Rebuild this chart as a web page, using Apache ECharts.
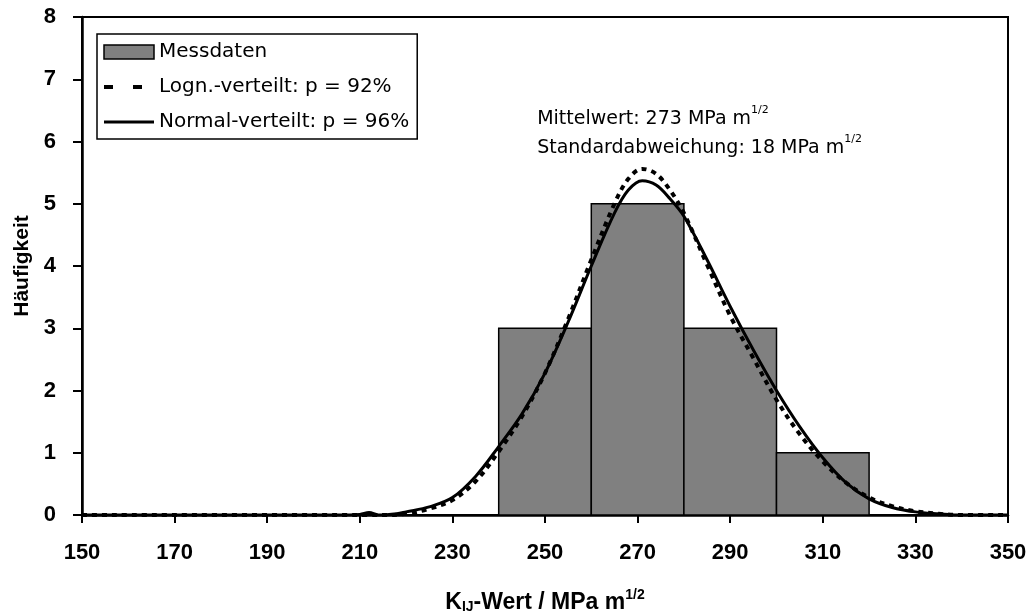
<!DOCTYPE html>
<html>
<head>
<meta charset="utf-8">
<script src="https://cdn.jsdelivr.net/npm/echarts@6/dist/echarts.min.js"></script>
<style>
html,body{margin:0;padding:0;background:#fff;}
#chart{width:1033px;height:616px;}
</style>
</head>
<body>
<div id="chart"></div>
<script>
// ---- data ----
var xTickValues = [150, 170, 190, 210, 230, 250, 270, 290, 310, 330, 350];
var binStarts = [240, 260, 280, 300];
var binEnds   = [260, 280, 300, 320];
var binCounts = [3, 5, 3, 1];

var normalX = [150, 205, 210, 212, 214, 218, 220, 225, 230, 235, 240, 245, 250, 255, 260, 265, 268, 271, 274, 277, 280, 285, 290, 295, 300, 305, 310, 315, 320, 325, 330, 335, 340, 350];
var normalY = [0, 0, 0.01, 0.04, 0.0, 0.02, 0.05, 0.13, 0.28, 0.62, 1.1, 1.62, 2.28, 3.1, 4.0, 4.85, 5.22, 5.37, 5.3, 5.08, 4.8, 4.1, 3.35, 2.65, 2.0, 1.42, 0.92, 0.52, 0.26, 0.12, 0.05, 0.02, 0, 0];

var lognX = [150, 215, 220, 225, 230, 235, 240, 245, 250, 255, 260, 265, 268, 271, 274, 277, 280, 285, 290, 295, 300, 305, 310, 315, 320, 325, 330, 335, 340, 350];
var lognY = [0, 0, 0.02, 0.1, 0.24, 0.54, 1.02, 1.58, 2.28, 3.15, 4.1, 5.0, 5.4, 5.56, 5.48, 5.22, 4.85, 4.02, 3.2, 2.52, 1.85, 1.3, 0.86, 0.52, 0.28, 0.14, 0.06, 0.02, 0, 0];

var seriesNames = ['Messdaten', 'Logn.-verteilt: p = 92%', 'Normal-verteilt: p = 96%'];

// ---- build ----
function pairs(xs, ys) { return xs.map(function (x, i) { return [x, ys[i]]; }); }
var barData = binStarts.map(function (s, i) { return [s, binEnds[i], binCounts[i]]; });

var chart = echarts.init(document.getElementById('chart'), null, {renderer: 'canvas'});
var REG = 'DejaVu Sans';
var BOLD = 'Liberation Sans';

var option = {
  animation: false,
  backgroundColor: '#fff',
  grid: {left: 82, right: 25, top: 17, bottom: 101, show: true, borderColor: '#000', borderWidth: 2,
         containLabel: false, outerBoundsMode: 'none'},
  legend: {
    orient: 'vertical', left: 97, top: 34,
    padding: [8, 8, 7, 5],
    itemWidth: 50, itemHeight: 14, itemGap: 15,
    borderColor: '#000', borderWidth: 1.5, backgroundColor: '#fff',
    textStyle: {fontFamily: REG, fontSize: 20, color: '#000'},
    data: [
      {name: seriesNames[0], icon: 'rect', itemStyle: {color: '#808080', borderColor: '#000', borderWidth: 1.5}},
      {name: seriesNames[1], itemStyle: {color: 'rgba(0,0,0,0)', borderWidth: 0, opacity: 0}, lineStyle: {type: [9, 20], width: 4, color: '#000', opacity: 1}},
      {name: seriesNames[2], itemStyle: {color: 'rgba(0,0,0,0)', borderWidth: 0, opacity: 0}, lineStyle: {width: 3, color: '#000', opacity: 1}}
    ]
  },
  xAxis: {
    type: 'value', min: 150, max: 350,
    axisLine: {show: true, onZero: false, lineStyle: {color: '#000', width: 2.5}},
    axisTick: {show: true, length: 8, lineStyle: {color: '#000', width: 2}, customValues: xTickValues},
    axisLabel: {margin: 27, fontFamily: BOLD, fontWeight: 'bold', fontSize: 22, color: '#000', customValues: xTickValues},
    splitLine: {show: false},
    name: '{n|K}{s|IJ}{n|-Wert / MPa m}{p|1/2}',
    nameLocation: 'middle', nameGap: 73,
    nameTextStyle: {
      rich: {
        n: {fontFamily: BOLD, fontWeight: 'bold', fontSize: 23, color: '#000', lineHeight: 26, verticalAlign: 'bottom'},
        s: {fontFamily: BOLD, fontWeight: 'bold', fontSize: 14, color: '#000', lineHeight: 15, verticalAlign: 'bottom', padding: [13, 0, 0, 0]},
        p: {fontFamily: BOLD, fontWeight: 'bold', fontSize: 14, color: '#000', lineHeight: 15, verticalAlign: 'top'}
      }
    }
  },
  yAxis: {
    type: 'value', min: 0, max: 8, interval: 1,
    axisLine: {show: true, lineStyle: {color: '#000', width: 2.5}},
    axisTick: {show: true, length: 9, lineStyle: {color: '#000', width: 2}},
    axisLabel: {margin: 26, fontFamily: BOLD, fontWeight: 'bold', fontSize: 22, color: '#000'},
    splitLine: {show: false},
    name: 'Häufigkeit', nameLocation: 'middle', nameGap: 46, nameRotate: 90,
    nameTextStyle: {fontFamily: BOLD, fontWeight: 'bold', fontSize: 21, color: '#000'}
  },
  series: [
    {
      name: seriesNames[0], type: 'custom', z: 1,
      itemStyle: {color: '#808080', borderColor: '#000', borderWidth: 1.5},
      renderItem: function (params, api) {
        var p0 = api.coord([api.value(0), api.value(2)]);
        var p1 = api.coord([api.value(1), 0]);
        return {
          type: 'rect',
          shape: {x: p0[0], y: p0[1], width: p1[0] - p0[0], height: p1[1] - p0[1]},
          style: {fill: '#808080', stroke: '#000', lineWidth: 1.5}
        };
      },
      encode: {x: [0, 1], y: 2},
      data: barData
    },
    {
      name: seriesNames[1], type: 'line', z: 3, smooth: 0.35, symbol: 'none',
      lineStyle: {color: '#000', width: 4, type: [5, 5]},
      itemStyle: {color: '#000'},
      data: pairs(lognX, lognY)
    },
    {
      name: seriesNames[2], type: 'line', z: 4, smooth: 0.35, symbol: 'none',
      lineStyle: {color: '#000', width: 3},
      itemStyle: {color: '#000'},
      data: pairs(normalX, normalY)
    }
  ]
};
chart.setOption(option);

// annotation text anchored to data coordinates
var a1 = chart.convertToPixel({gridIndex: 0}, [248.3, 6.6]);
var a2 = chart.convertToPixel({gridIndex: 0}, [248.3, 6.12]);
var annRich = {
  n: {fontFamily: REG, fontSize: 19, color: '#000', lineHeight: 24, verticalAlign: 'bottom'},
  p: {fontFamily: REG, fontSize: 11, color: '#000', lineHeight: 12, verticalAlign: 'top'}
};
chart.setOption({
  graphic: [
    {type: 'text', left: a1[0], top: a1[1], z: 10, style: {text: '{n|Mittelwert: 273 MPa m}{p|1/2}', rich: annRich}},
    {type: 'text', left: a2[0], top: a2[1], z: 10, style: {text: '{n|Standardabweichung: 18 MPa m}{p|1/2}', rich: annRich}}
  ]
});
</script>
</body>
</html>
